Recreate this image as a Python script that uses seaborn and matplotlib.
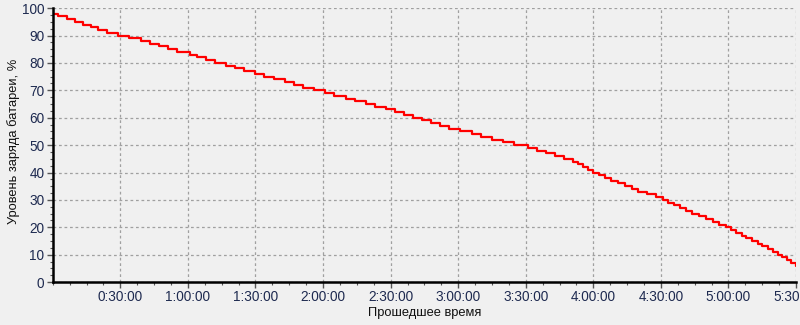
import numpy as np
import pandas as pd
import seaborn as sns
import matplotlib
matplotlib.use("Agg")
import matplotlib.pyplot as plt
from matplotlib.ticker import FixedLocator, MultipleLocator, FuncFormatter

# Elapsed time (minutes) at which the battery level changed, and the level (%)
minutes = [0, 2.5, 6.5, 10, 13.5, 17, 20, 24, 29,
           34, 39, 43, 47, 51, 55, 61,
           64, 68, 72, 77, 81, 85, 90,
           94, 98, 103, 107, 111, 116, 121,
           125, 130, 134, 139, 143, 148, 152,
           156, 160, 164, 168, 172, 176, 181,
           186, 190, 195, 200, 205, 211,
           215, 219, 223, 227, 231,
           233, 235.5, 237.5, 240,
           242.5, 245, 248, 251, 254, 257, 260, 264, 268, 271,
           273, 276, 278.5, 281, 284, 287, 290, 293, 296, 299,
           301, 303.5, 306, 308, 310.5, 313, 315, 317.5, 320, 322, 324, 326, 328, 330]
levels = [98, 97, 96, 95, 94, 93, 92, 91, 90,
          89, 88, 87, 86, 85, 84, 83,
          82, 81, 80, 79, 78, 77, 76,
          75, 74, 73, 72, 71, 70, 69,
          68, 67, 66, 65, 64, 63, 62,
          61, 60, 59, 58, 57, 56, 55,
          54, 53, 52, 51, 50, 49,
          48, 47, 46, 45, 44,
          43, 42, 41, 40,
          39, 38, 37, 36, 35, 34, 33, 32, 31, 30,
          29, 28, 27, 26, 25, 24, 23, 22, 21, 20,
          19, 18, 17, 16, 15, 14, 13, 12, 11, 10, 9, 8, 7, 6]

x_ticks = [30, 60, 90, 120, 150, 180, 210, 240, 270, 300, 330]
y_ticks = [0, 10, 20, 30, 40, 50, 60, 70, 80, 90, 100]
x_label = "Прошедшее время"
y_label = "Уровень заряда батареи, %"

df = pd.DataFrame({"t": minutes, "level": levels})

sns.set_theme(style="white")
plt.rcParams["font.family"] = ["Liberation Sans", "DejaVu Sans"]
bg = "#f0f0f0"

fig = plt.figure(figsize=(8, 3.25), dpi=100, facecolor=bg)
ax = fig.add_axes([0.066, 0.132, 0.929, 0.843], facecolor=bg)

sns.lineplot(data=df, x="t", y="level", ax=ax, color="#ff0000",
             linewidth=1.6, drawstyle="steps-post", estimator=None)

ax.set_xlim(0, 330)
ax.set_ylim(0, 100)

def fmt(v, pos):
    m = int(round(v))
    return f"{m // 60}:{m % 60:02d}:00"

ax.xaxis.set_major_locator(FixedLocator(x_ticks))
ax.xaxis.set_major_formatter(FuncFormatter(fmt))
ax.xaxis.set_minor_locator(MultipleLocator(7.5))
ax.yaxis.set_major_locator(FixedLocator(y_ticks))
ax.yaxis.set_minor_locator(MultipleLocator(2.5))

ax.grid(True, which="major", color="#a0a0a0", linestyle=(0, (2.2, 2.2)), linewidth=0.9)
ax.set_axisbelow(True)

for s in ["top", "right"]:
    ax.spines[s].set_visible(False)
for s in ["left", "bottom"]:
    ax.spines[s].set_color("black")
    ax.spines[s].set_linewidth(1.8)

ax.tick_params(axis="both", which="major", direction="out", length=4, width=1,
               color="#555555", labelsize=9.8, labelcolor="#1e2a50", pad=2,
               bottom=True, left=True)
ax.tick_params(axis="both", which="minor", direction="out", length=2.5, width=0.8,
               color="#555555", bottom=True, left=True)

ax.set_xlabel(x_label, fontsize=9.3, color="#111111", labelpad=2)
ax.set_ylabel(y_label, fontsize=9.3, color="#111111")
ax.yaxis.set_label_coords(-0.044, 0.515)

fig.savefig("out.png", dpi=100, facecolor=bg)
